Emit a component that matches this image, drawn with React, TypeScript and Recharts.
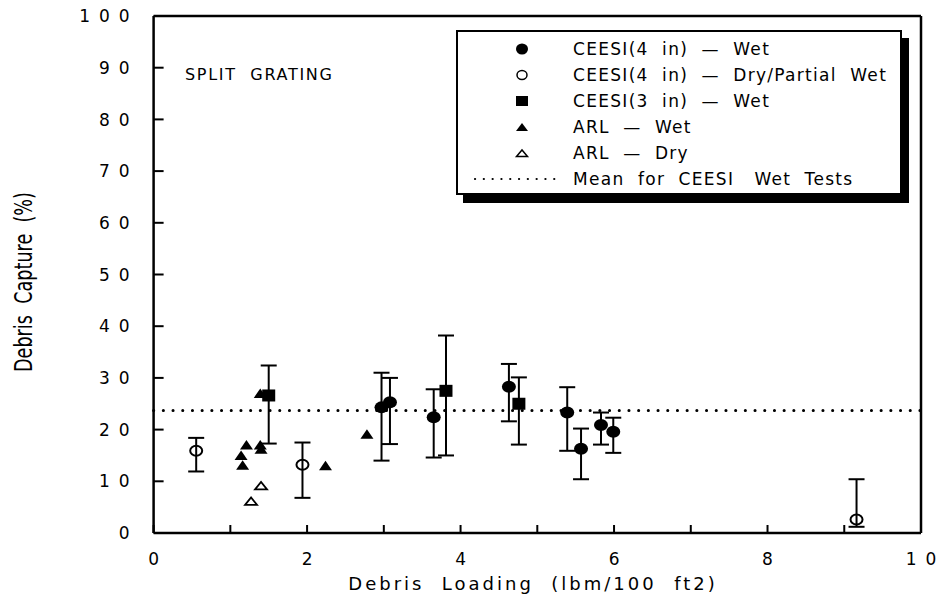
import { ScatterChart, Scatter, XAxis, YAxis, ErrorBar, ReferenceLine, Legend } from "recharts";

const FONT = "'DejaVu Sans', Verdana, sans-serif";

// CEESI (4 in) - Wet
const ceesi4WetX = [2.97, 3.08, 3.65, 4.63, 5.39, 5.57, 5.83, 5.99];
const ceesi4WetY = [24.3, 25.3, 22.4, 28.3, 23.3, 16.3, 20.9, 19.6];
const ceesi4WetLo = [14.0, 17.2, 14.6, 21.6, 15.9, 10.4, 17.1, 15.5];
const ceesi4WetHi = [31.0, 30.0, 27.8, 32.7, 28.2, 20.2, 23.3, 22.3];

// CEESI (4 in) - Dry/Partial Wet
const ceesi4DryX = [0.555, 1.94, 9.16];
const ceesi4DryY = [15.9, 13.2, 2.6];
const ceesi4DryLo = [11.9, 6.8, 1.2];
const ceesi4DryHi = [18.4, 17.5, 10.4];

// CEESI (3 in) - Wet
const ceesi3WetX = [1.5, 3.81, 4.76];
const ceesi3WetY = [26.6, 27.5, 25.0];
const ceesi3WetLo = [17.3, 15.0, 17.1];
const ceesi3WetHi = [32.4, 38.2, 30.1];

// ARL
const arlWetX = [1.14, 1.16, 1.21, 1.39, 1.4, 1.39, 2.24, 2.78];
const arlWetY = [15.0, 13.1, 17.0, 17.0, 16.2, 27.0, 13.0, 19.1];
const arlDryX = [1.27, 1.4];
const arlDryY = [6.1, 9.1];

const meanCeesiWet = 23.7;

const xTicks = [0, 1, 2, 3, 4, 5, 6, 7, 8, 9, 10];
const yTicks = [0, 10, 20, 30, 40, 50, 60, 70, 80, 90, 100];

const withErr = (xs: number[], ys: number[], lo: number[], hi: number[]) =>
  xs.map((x, i) => ({ x, y: ys[i], err: [ys[i] - lo[i], hi[i] - ys[i]] }));
const plain = (xs: number[], ys: number[]) => xs.map((x, i) => ({ x, y: ys[i] }));

const ceesi4Wet = withErr(ceesi4WetX, ceesi4WetY, ceesi4WetLo, ceesi4WetHi);
const ceesi4Dry = withErr(ceesi4DryX, ceesi4DryY, ceesi4DryLo, ceesi4DryHi);
const ceesi3Wet = withErr(ceesi3WetX, ceesi3WetY, ceesi3WetLo, ceesi3WetHi);
const arlWet = plain(arlWetX, arlWetY);
const arlDry = plain(arlDryX, arlDryY);

const FilledCircle = (p: any) => <ellipse cx={p.cx} cy={p.cy} rx={7} ry={6} fill="#000" />;
const OpenCircle = (p: any) => (
  <ellipse cx={p.cx} cy={p.cy} rx={6} ry={5} fill="none" stroke="#000" strokeWidth={2} />
);
const FilledSquare = (p: any) => <rect x={p.cx - 6.5} y={p.cy - 6} width={13} height={12} fill="#000" />;
const FilledTriangle = (p: any) => (
  <polygon points={`${p.cx - 6.5},${p.cy + 4.5} ${p.cx + 6.5},${p.cy + 4.5} ${p.cx},${p.cy - 5}`} fill="#000" />
);
const OpenTriangle = (p: any) => (
  <polygon
    points={`${p.cx - 6},${p.cy + 3.5} ${p.cx + 6},${p.cy + 3.5} ${p.cx},${p.cy - 4}`}
    fill="none"
    stroke="#000"
    strokeWidth={1.8}
  />
);

const TICK_LS = 9;

const BottomTick = ({ x, y, payload }: any) =>
  payload.value % 2 === 0 ? (
    <text x={x + TICK_LS / 2} y={y + 12} textAnchor="middle" fontSize={17} fontFamily={FONT} letterSpacing={TICK_LS} fill="#000">
      {payload.value}
    </text>
  ) : (
    <g />
  );

const LeftTick = ({ x, y, payload }: any) => (
  <text x={x + TICK_LS - 4} y={y} dy="0.36em" textAnchor="end" fontSize={17} fontFamily={FONT} letterSpacing={TICK_LS} fill="#000">
    {payload.value}
  </text>
);

const XTitle = () => (
  <text x={533} y={590} textAnchor="middle" fontSize={18} fontFamily={FONT} letterSpacing={3} fill="#000" style={{ whiteSpace: "pre" }}>
    {"Debris  Loading  (lbm/100  ft2)"}
  </text>
);

const YTitle = () => (
  <text
    transform="translate(31.5,282) rotate(-90)"
    textAnchor="middle"
    fontSize={24}
    fontFamily={FONT}
    textLength={180}
    lengthAdjust="spacingAndGlyphs"
    fill="#000"
    style={{ whiteSpace: "pre" }}
  >
    {"Debris  Capture  (%)"}
  </text>
);

const PanelTitle = () => (
  <text x={185} y={80} fontSize={16} fontFamily={FONT} letterSpacing={1.7} fill="#000" style={{ whiteSpace: "pre" }}>
    {"SPLIT  GRATING"}
  </text>
);

const legendRows = [
  { label: "CEESI(4  in)  —  Wet", mark: "filledCircle" },
  { label: "CEESI(4  in)  —  Dry/Partial  Wet", mark: "openCircle" },
  { label: "CEESI(3  in)  —  Wet", mark: "square" },
  { label: "ARL  —  Wet", mark: "filledTriangle" },
  { label: "ARL  —  Dry", mark: "openTriangle" },
  { label: "Mean  for  CEESI   Wet  Tests", mark: "dots" },
];

function LegendMark({ mark }: { mark: string }) {
  if (mark === "dots") {
    return (
      <svg width={84} height={26} style={{ position: "absolute", left: 15, top: 0 }}>
        <line x1={2} y1={13} x2={82} y2={13} stroke="#000" strokeWidth={2.2} strokeDasharray="0.1 8.7" strokeLinecap="round" />
      </svg>
    );
  }
  const c = { cx: 12, cy: 13 };
  let el = null;
  if (mark === "filledCircle") el = <ellipse {...c} rx={6} ry={5.5} fill="#000" />;
  if (mark === "openCircle") el = <ellipse {...c} rx={5} ry={4.5} fill="none" stroke="#000" strokeWidth={1.5} />;
  if (mark === "square") el = <rect x={6} y={8} width={12} height={10} fill="#000" />;
  if (mark === "filledTriangle") el = <polygon points="6,17 18,17 12,9" fill="#000" />;
  if (mark === "openTriangle") el = <polygon points="6.5,16.5 17.5,16.5 12,10" fill="none" stroke="#000" strokeWidth={1.5} />;
  return (
    <svg width={24} height={26} style={{ position: "absolute", left: 52, top: 0 }}>
      {el}
    </svg>
  );
}

const LegendBox = () => (
  <div
    style={{
      position: "relative",
      width: 446,
      height: 165,
      boxSizing: "border-box",
      border: "2px solid #000",
      background: "#fff",
      boxShadow: "7px 8px 0 #000",
      fontFamily: FONT,
      fontSize: 17,
      letterSpacing: 1.3,
      color: "#000",
    }}
  >
    {legendRows.map((r, i) => (
      <div key={r.label} style={{ position: "absolute", left: 0, top: 4 + i * 26, height: 26, width: 440 }}>
        <LegendMark mark={r.mark} />
        <span style={{ position: "absolute", left: 115, top: 0, lineHeight: "26px", whiteSpace: "pre" }}>{r.label}</span>
      </div>
    ))}
  </div>
);

const axisLine = { stroke: "#000", strokeWidth: 2.5 };
const tickLine = { stroke: "#000", strokeWidth: 2 };

export default function App() {
  return (
    <div style={{ position: "absolute", left: 0, top: 0, width: 951, height: 607, background: "#fff" }}>
      <ScatterChart width={951} height={607} margin={{ top: 15, right: 29, bottom: 34, left: 93.6 }}>
        <XAxis
          type="number"
          dataKey="x"
          domain={[0, 10]}
          ticks={xTicks}
          height={40}
          tickSize={-8}
          tickMargin={28}
          axisLine={axisLine}
          tickLine={tickLine}
          tick={BottomTick}
          label={{ content: XTitle }}
        />
        <XAxis
          xAxisId="top"
          orientation="top"
          type="number"
          domain={[0, 10]}
          ticks={xTicks}
          height={1}
          tickSize={-8}
          axisLine={axisLine}
          tickLine={tickLine}
          tick={false}
          label={{ content: PanelTitle }}
        />
        <YAxis
          type="number"
          dataKey="y"
          domain={[0, 100]}
          ticks={yTicks}
          width={60}
          tickSize={-10}
          tickMargin={30}
          axisLine={axisLine}
          tickLine={tickLine}
          tick={LeftTick}
          label={{ content: YTitle }}
        />
        <YAxis
          yAxisId="right"
          orientation="right"
          type="number"
          domain={[0, 100]}
          ticks={yTicks}
          width={1}
          tickSize={-10}
          axisLine={axisLine}
          tickLine={tickLine}
          tick={false}
        />
        <ReferenceLine
          y={meanCeesiWet}
          stroke="#000"
          strokeWidth={3}
          strokeDasharray="0.1 9.6"
          strokeLinecap="round"
        />
        <Scatter data={ceesi4Dry} shape={OpenCircle} isAnimationActive={false}>
          <ErrorBar dataKey="err" direction="y" width={8} stroke="#000" strokeWidth={2} isAnimationActive={false} />
        </Scatter>
        <Scatter data={ceesi4Wet} shape={FilledCircle} isAnimationActive={false}>
          <ErrorBar dataKey="err" direction="y" width={8} stroke="#000" strokeWidth={2} isAnimationActive={false} />
        </Scatter>
        <Scatter data={ceesi3Wet} shape={FilledSquare} isAnimationActive={false}>
          <ErrorBar dataKey="err" direction="y" width={8} stroke="#000" strokeWidth={2} isAnimationActive={false} />
        </Scatter>
        <Scatter data={arlWet} shape={FilledTriangle} isAnimationActive={false} />
        <Scatter data={arlDry} shape={OpenTriangle} isAnimationActive={false} />
        <Legend
          layout="vertical"
          align="center"
          verticalAlign="middle"
          wrapperStyle={{ left: 456, top: 30, width: 446, height: 165 }}
          content={LegendBox}
        />
      </ScatterChart>
    </div>
  );
}
